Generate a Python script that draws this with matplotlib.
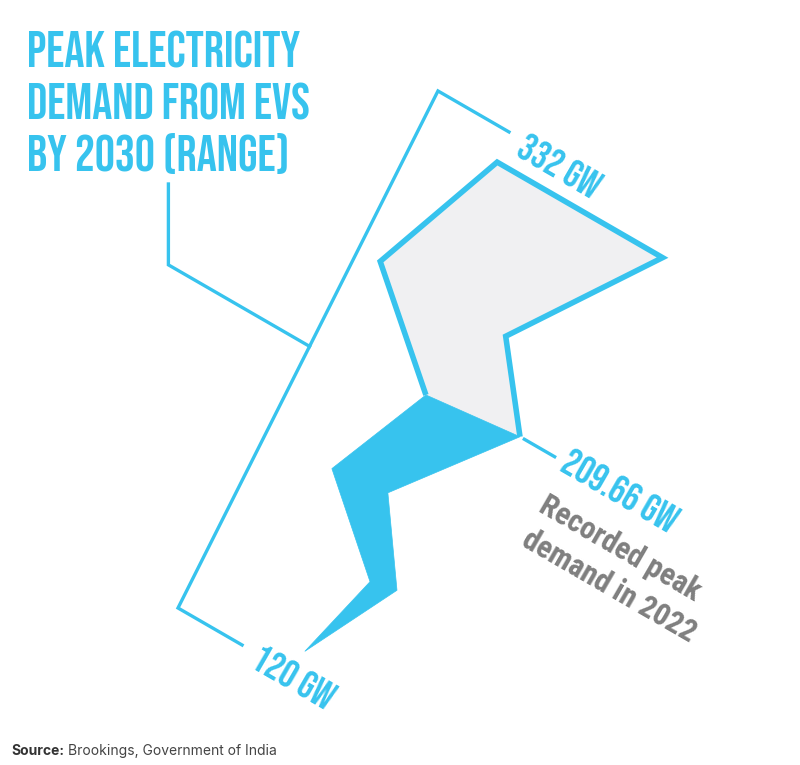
import numpy as np
import matplotlib
matplotlib.use("Agg")
import matplotlib.pyplot as plt
from matplotlib import transforms
from matplotlib.patches import Polygon

# values (GW)
low_gw = 120
recorded_gw = 209.66
high_gw = 332
value_labels = ["120 GW", "209.66 GW", "332 GW"]
title_lines = ["PEAK ELECTRICITY", "DEMAND FROM EVS", "BY 2030 (RANGE)"]
note_lines = ["Recorded peak", "demand in 2022"]
source_bold = "Source:"
source_rest = "Brookings, Government of India"

BLUE = "#37c3ee"
GREY_FILL = "#f0f0f2"
GREY_TEXT = "#7f7f7f"
HEAD = ["Bebas Neue", "DejaVu Sans"]
COND = ["Roboto Condensed", "DejaVu Sans"]
BODY = ["Inter", "DejaVu Sans"]

fig = plt.figure(figsize=(8, 7.65), dpi=100)
ax = fig.add_axes([0, 0, 1, 1])
ax.set_xlim(0, 800)
ax.set_ylim(765, 0)
ax.axis("off")

# tilted frame: s runs along the ticks (30 deg down), t up along the bracket
aff = transforms.Affine2D.from_values(0.866, 0.5, 0.449, -0.893, 178, 608)
tilt = aff + ax.transData

# the drawing is not to scale, the 2022 mark sits past the middle
stops_gw = [low_gw, recorded_gw, high_gw]
stops_t = [0, 320, 579]


def track(gw):
    return float(np.interp(gw, stops_gw, stops_t))


t_lo, t_rec, t_hi = track(low_gw), track(recorded_gw), track(high_gw)

# bolt outline template: (s, fraction through its section)
lower_shape = [(229, 1.0), (136, 0.641), (188, 0.391), (133, 0.081),
               (160, 0.372), (75, 0.619), (126, 0.966)]
upper_shape = [(171, 0.309), (276, 0.876), (85, 0.876), (25, 0.317)]

lower_pts = [(s, t_lo + f * (t_rec - t_lo)) for s, f in lower_shape]
upper_pts = [(s, t_rec + f * (t_hi - t_rec)) for s, f in upper_shape]
split_r = lower_pts[0]
split_l = lower_pts[-1]

ax.add_patch(Polygon([split_r] + upper_pts + [split_l], closed=True,
                     facecolor=GREY_FILL, edgecolor="none", transform=tilt))
ax.add_patch(Polygon(lower_pts, closed=True, facecolor=BLUE, edgecolor=BLUE,
                     lw=0.5, transform=tilt))
edge = [split_l] + upper_pts[::-1] + [split_r]
ax.plot([p[0] for p in edge], [p[1] for p in edge], color=BLUE, lw=4,
        solid_joinstyle="miter", solid_capstyle="butt", transform=tilt)

# range bracket
ax.plot([74, 0, 0, 82], [t_lo, t_lo, t_hi, t_hi], color=BLUE, lw=2.4,
        solid_joinstyle="miter", transform=tilt)
ax.plot([234, 269], [t_rec, t_rec], color=BLUE, lw=2.4, transform=tilt)

# connector from the title to the bracket
join = aff.transform((0, 293))
elbow = aff.transform((-163, 293))
ax.plot([join[0], elbow[0], elbow[0]], [join[1], elbow[1], 184],
        color=BLUE, lw=2.4, solid_joinstyle="miter")

lab = dict(transform=tilt, rotation=-30, rotation_mode="anchor", ha="left",
           va="baseline", fontsize=28, color=BLUE, family=HEAD)
ax.text(89, t_lo - 15, value_labels[0], **lab)
ax.text(278, t_rec - 10, value_labels[1], **lab)
ax.text(97, t_hi - 17, value_labels[2], **lab)
for i, line in enumerate(note_lines):
    ax.text(278, t_rec - 56 - 38 * i, line, transform=tilt, rotation=-30,
            rotation_mode="anchor", ha="left", va="baseline", fontsize=22,
            fontweight="bold", color=GREY_TEXT, family=COND)

for i, line in enumerate(title_lines):
    ax.text(27, 67 + 52 * i, line, fontsize=36, color=BLUE, family=HEAD,
            va="baseline")

src = ax.text(11, 755, source_bold, fontsize=10, fontweight="bold",
              color="#333333", family=BODY, va="baseline")
fig.canvas.draw()
bb = src.get_window_extent().transformed(ax.transData.inverted())
ax.text(bb.x1 + 4, 755, source_rest, fontsize=10, color="#444444",
        family=BODY, va="baseline")

fig.savefig("out.png", dpi=100, facecolor="white")
